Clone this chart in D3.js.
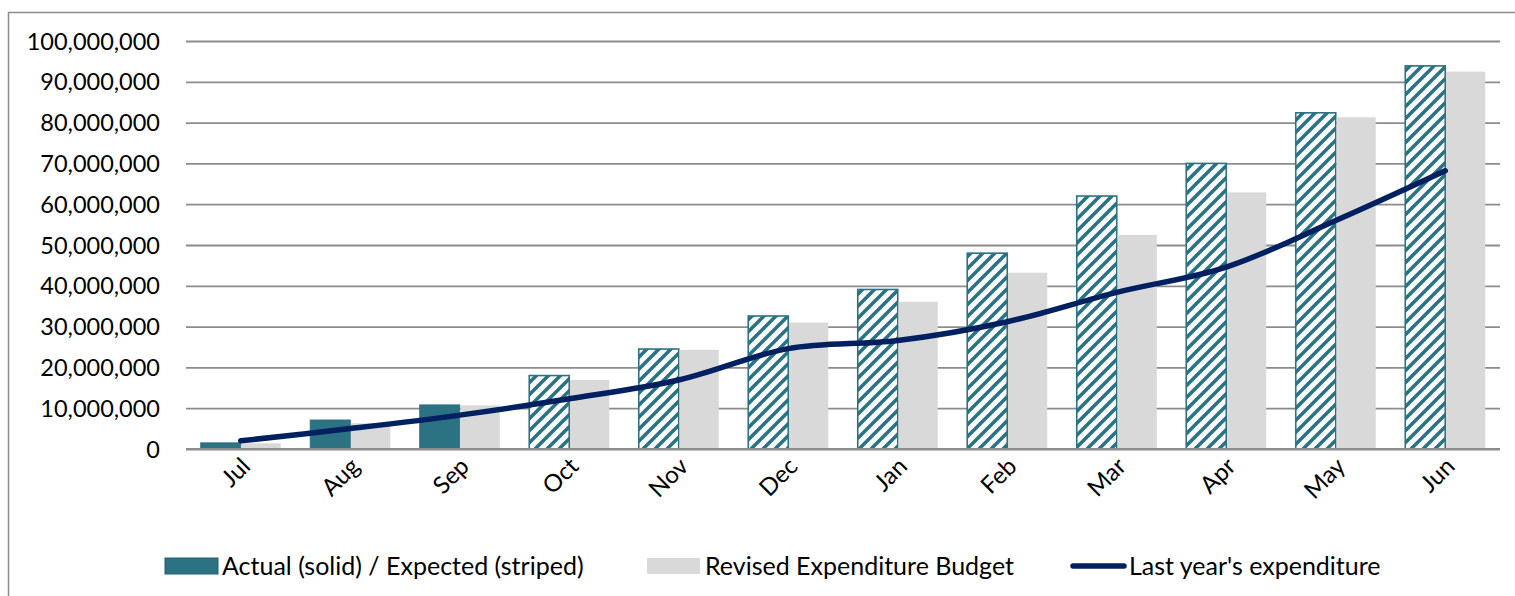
<!DOCTYPE html>
<html><head><meta charset="utf-8">
<script src="https://cdn.jsdelivr.net/npm/d3@7/dist/d3.min.js"></script>
<style>body{margin:0;background:#fff;}svg{display:block;}text{font-family:Lato,"Open Sans",sans-serif;fill:#000;}</style>
</head><body><svg id="c" width="1515" height="596"></svg>
<script>
const months = ["Jul","Aug","Sep","Oct","Nov","Dec","Jan","Feb","Mar","Apr","May","Jun"];
const actualExpected = [1500000, 7100000, 10800000, 18000000, 24500000, 32600000, 39100000, 48000000, 62000000, 70000000, 82400000, 93900000];
const isActual = [true, true, true, false, false, false, false, false, false, false, false, false];
const revisedBudget = [1400000, 6300000, 10700000, 16900000, 24300000, 31000000, 36100000, 43200000, 52500000, 62900000, 81300000, 92500000];
const lastYear = [2000000, 5000000, 8300000, 12300000, 16900000, 24600000, 26600000, 31200000, 38400000, 44600000, 56000000, 68200000];
const yTicks = [0,10000000,20000000,30000000,40000000,50000000,60000000,70000000,80000000,90000000,100000000];
const legendLabels = ["Actual (solid) / Expected (striped)", "Revised Expenditure Budget", "Last year's expenditure"];

const TEAL = "#2B7282", GREY = "#D9D9D9", NAVY = "#002060", GRID = "#8C8C8C";
const svg = d3.select("#c");
const L = 186, R = 1500, T = 41, B = 449;

const defs = svg.append("defs");
const P = 12;
const pat = defs.append("pattern").attr("id","stripe").attr("patternUnits","userSpaceOnUse")
  .attr("width",P).attr("height",P);
pat.append("rect").attr("width",P).attr("height",P).attr("fill","#fff");
pat.append("path").attr("d",`M-3,3 L3,-3 M0,${P} L${P},0 M${P-3},${P+3} L${P+3},${P-3}`).attr("stroke",TEAL).attr("stroke-width",3.6);

// outer border
svg.append("rect").attr("x",8.5).attr("y",12.5).attr("width",1520).attr("height",600)
  .attr("fill","none").attr("stroke","#8C8C8C").attr("stroke-width",1.5);

const x0 = d3.scaleBand().domain(months).range([L,R]).paddingInner(0.2694).paddingOuter(0.1347);
const x1 = d3.scaleBand().domain(["a","r"]).range([0,x0.bandwidth()]);
const y = d3.scaleLinear().domain([0,100000000]).range([B,T]);

// grid + y labels
const yAxis = d3.axisLeft(y).tickValues(yTicks).tickSize(-(R-L)).tickPadding(26)
  .tickFormat(d3.format(","));
const ga = svg.append("g").attr("transform",`translate(${L},0)`).call(yAxis);
ga.select(".domain").remove();
ga.selectAll(".tick line").attr("stroke",GRID).attr("stroke-width",1.8);
ga.selectAll(".tick text").attr("font-size",23.5).attr("fill","#000").attr("dy","0.34em");

// bars
const g = svg.append("g");
months.forEach((m,i)=>{
  const xa = x0(m)+x1("a");
  g.append("rect").attr("x",xa).attr("width",x1.bandwidth())
    .attr("y",y(actualExpected[i])).attr("height",y(0)-y(actualExpected[i]))
    .attr("fill",isActual[i]?TEAL:"url(#stripe)")
    .attr("stroke",TEAL).attr("stroke-width",isActual[i]?1:1.6);
  g.append("rect").attr("x",x0(m)+x1("r")+0.8).attr("width",x1.bandwidth()-0.8)
    .attr("y",y(revisedBudget[i])).attr("height",y(0)-y(revisedBudget[i]))
    .attr("fill",GREY);
});

// redraw 0 line over bars
svg.append("line").attr("x1",L).attr("x2",R).attr("y1",y(0)).attr("y2",y(0)).attr("stroke",GRID).attr("stroke-width",1.8);

// line
const line = d3.line().x((d,i)=>x0(months[i])+x0.bandwidth()/2).y(d=>y(d)).curve(d3.curveCatmullRom.alpha(0.5));
svg.append("path").datum(lastYear).attr("d",line).attr("fill","none").attr("stroke",NAVY)
  .attr("stroke-width",5.5).attr("stroke-linecap","round").attr("stroke-linejoin","round");

// x labels
months.forEach((m,i)=>{
  const cx = x0(m)+x0.bandwidth()/2;
  svg.append("text").attr("transform",`translate(${cx-1},${456}) rotate(-45)`)
    .attr("text-anchor","end").attr("font-size",24).attr("dy","0.7em").text(m);
});

// legend
const ly = 566;
svg.append("rect").attr("x",165).attr("y",ly-8).attr("width",53).attr("height",16).attr("fill",TEAL).attr("stroke","#25606E").attr("stroke-width",1);
svg.append("text").attr("x",222).attr("y",ly).attr("dy","0.35em").attr("font-size",25).text(legendLabels[0]);
svg.append("rect").attr("x",647).attr("y",ly-8).attr("width",53).attr("height",16).attr("fill",GREY);
svg.append("text").attr("x",705).attr("y",ly).attr("dy","0.35em").attr("font-size",25).text(legendLabels[1]);
svg.append("line").attr("x1",1073).attr("x2",1124).attr("y1",ly).attr("y2",ly).attr("stroke",NAVY).attr("stroke-width",5.5).attr("stroke-linecap","round");
svg.append("text").attr("x",1129).attr("y",ly).attr("dy","0.35em").attr("font-size",25).text(legendLabels[2]);
</script></body></html>
